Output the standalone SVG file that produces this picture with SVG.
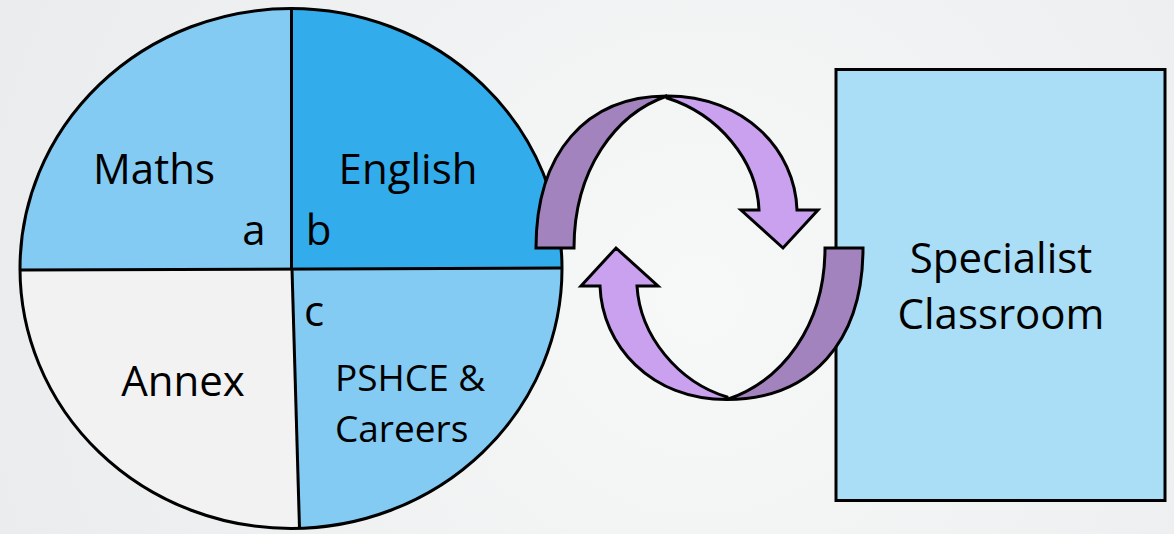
<svg xmlns="http://www.w3.org/2000/svg" width="1174" height="534" viewBox="0 0 1174 534">
  <defs>
    <radialGradient id="bg" cx="700" cy="300" r="800" gradientUnits="userSpaceOnUse">
      <stop offset="0" stop-color="#F7F8F8"/>
      <stop offset="1" stop-color="#E9EBEC"/>
    </radialGradient>
    <clipPath id="circ">
      <ellipse cx="291" cy="268.5" rx="271" ry="260"/>
    </clipPath>
  </defs>
  <style>
    .lbl { font-family: "Open Sans", "Liberation Sans", sans-serif; font-size: 42px; fill: #000; }
    .sm { font-size: 37px; }
    .mid { text-anchor: middle; }
    .edge { stroke: #000; stroke-width: 3; fill: none; }
    .dark { fill: #A283BE; stroke: #000; stroke-width: 3; stroke-linejoin: miter; }
    .light { fill: #C9A1EE; stroke: #000; stroke-width: 3; stroke-linejoin: miter; }
  </style>
  <rect x="0" y="0" width="1174" height="534" fill="url(#bg)"/>

  <g id="circle">
    <g id="maths">
      <polygon points="0,0 291.5,0 291.5,269 0,270.5" fill="#83CBF3" clip-path="url(#circ)"/>
      <text class="lbl mid" x="154" y="184">Maths</text>
      <text class="lbl mid" x="254" y="245">a</text>
    </g>
    <g id="english">
      <polygon points="291.5,0 600,0 600,267.5 291.5,269" fill="#32ACEB" clip-path="url(#circ)"/>
      <text class="lbl mid" x="408" y="184">English</text>
      <text class="lbl mid" x="318.5" y="245">b</text>
    </g>
    <g id="annex">
      <polygon points="0,270.5 291.5,269 300,540 0,540" fill="#F2F2F2" clip-path="url(#circ)"/>
      <text class="lbl mid" x="183" y="396">Annex</text>
    </g>
    <g id="pshce">
      <polygon points="291.5,269 600,267.5 600,540 300,540" fill="#83CBF3" clip-path="url(#circ)"/>
      <text class="lbl mid" x="314" y="326">c</text>
      <text class="lbl sm" x="335" y="391">PSHCE &amp;</text>
      <text class="lbl sm" x="335" y="441.5">Careers</text>
    </g>
    <ellipse class="edge" cx="291" cy="268.5" rx="271" ry="260"/>
    <line class="edge" x1="20" y1="270" x2="562" y2="268"/>
    <line class="edge" x1="291.5" y1="8.5" x2="291.5" y2="269"/>
    <line class="edge" x1="292" y1="269" x2="299.5" y2="528.5"/>
  </g>

  <g id="specialist">
    <rect x="836" y="69.5" width="329" height="431" fill="#AADDF6" stroke="#000" stroke-width="3"/>
    <text class="lbl mid" x="1001" y="273">Specialist</text>
    <text class="lbl mid" x="1001" y="329">Classroom</text>
  </g>

  <g id="connectors">
    <g id="arrow-top">
      <path class="dark" d="M536,248 C536,153 586,96 667,96 C615,114 574,170 574,248 Z"/>
      <path class="light" d="M667,96 C745,96 795,150 797,210 L818,210 L783,248 L741,210 L759,210 C757,160 718,114 667,98 Z"/>
    </g>
    <g id="arrow-bottom">
      <path class="dark" d="M863,248 C863,342 811,399.5 727,399.5 C782,381 825,326 825,248 Z"/>
      <path class="light" d="M727,399.5 C650,399.5 602,345 600,286 L581,286 L616,248 L658,286 L637,286 C640,336 678,382 727,397 Z"/>
    </g>
  </g>
</svg>
